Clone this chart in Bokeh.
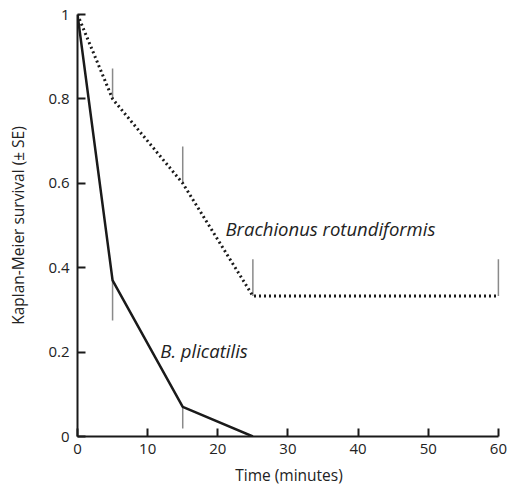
from bokeh.plotting import figure
from bokeh.models import FixedTicker, Range1d, Label
from bokeh.embed import file_html
from bokeh.resources import INLINE

# Data
rot_time = [0, 5, 15, 25, 60]
rot_surv = [1.0, 0.8, 0.6, 0.333, 0.333]
rot_err_time = [5, 15, 25, 60]
rot_err_base = [0.8, 0.6, 0.333, 0.333]
rot_err_top = [0.872, 0.687, 0.42, 0.42]

pli_time = [0, 5, 15, 25]
pli_surv = [1.0, 0.37, 0.07, 0.0]
pli_err_time = [5, 15]
pli_err_base = [0.37, 0.07]
pli_err_low = [0.275, 0.019]

x_ticks = [0, 10, 20, 30, 40, 50, 60]
y_ticks = [0, 0.2, 0.4, 0.6, 0.8, 1.0]
y_tick_labels = {0: "0", 0.2: "0.2", 0.4: "0.4", 0.6: "0.6", 0.8: "0.8", 1.0: "1"}

FONT = "Open Sans"

p = figure(width=510, height=488, output_backend="svg", toolbar_location=None,
           x_range=Range1d(0, 60.3), y_range=Range1d(0, 1.0),
           min_border_left=77, min_border_right=10, min_border_top=14, min_border_bottom=52)
p.outline_line_color = None
p.xgrid.grid_line_color = None
p.ygrid.grid_line_color = None

# error bars
p.segment(x0=rot_err_time, y0=rot_err_base, x1=rot_err_time, y1=rot_err_top,
          line_color="#8a8a8a", line_width=1.5)
p.segment(x0=pli_err_time, y0=pli_err_base, x1=pli_err_time, y1=pli_err_low,
          line_color="#8a8a8a", line_width=1.5)

# curves
p.line(rot_time, rot_surv, line_color="#1a1a1a", line_width=3, line_dash="2 3")
p.line(pli_time, pli_surv, line_color="#1a1a1a", line_width=2.5)

p.add_layout(Label(x=21.1, y=0.493, text="Brachionus rotundiformis", text_font=FONT,
                   text_font_style="italic", text_font_size="18.5px", text_color="#222222",
                   text_baseline="middle"))
p.add_layout(Label(x=11.8, y=0.204, text="B. plicatilis", text_font=FONT,
                   text_font_style="italic", text_font_size="18.5px", text_color="#222222",
                   text_baseline="middle"))

for ax in (p.xaxis[0], p.yaxis[0]):
    ax.axis_line_width = 2
    ax.axis_line_color = "#1a1a1a"
    ax.major_tick_line_color = "#1a1a1a"
    ax.major_tick_line_width = 2
    ax.major_tick_in = 8
    ax.major_tick_out = 0
    ax.minor_tick_line_color = None
    ax.major_label_text_font = FONT
    ax.major_label_text_font_size = "15px"
    ax.major_label_text_color = "#222222"
    ax.axis_label_text_font = FONT
    ax.axis_label_text_font_size = "15.5px"
    ax.axis_label_text_font_style = "normal"
    ax.axis_label_text_color = "#222222"

p.xaxis.bounds = (0, 60)
p.xaxis.ticker = FixedTicker(ticks=x_ticks)
p.yaxis.ticker = FixedTicker(ticks=y_ticks)
p.yaxis.major_label_overrides = y_tick_labels
p.xaxis.axis_label = "Time (minutes)"
p.yaxis.axis_label = "Kaplan-Meier survival (\u00b1 SE)"
p.xaxis.major_label_standoff = 7
p.yaxis.major_label_standoff = 8
p.xaxis.axis_label_standoff = 7
p.yaxis.axis_label_standoff = 16

open("out.html", "w").write(file_html(p, INLINE))
